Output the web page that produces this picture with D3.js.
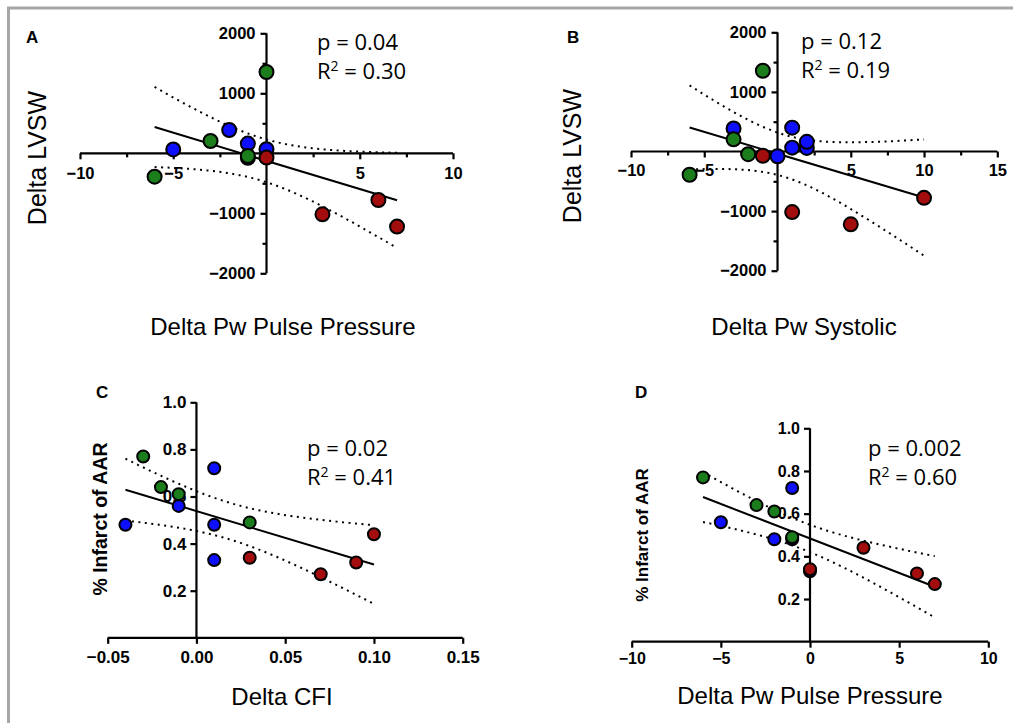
<!DOCTYPE html>
<html>
<head>
<meta charset="utf-8">
<script src="https://cdn.jsdelivr.net/npm/d3@7/dist/d3.min.js"></script>
<style>
  html, body { margin: 0; padding: 0; background: #ffffff; }
  svg { display: block; }
</style>
</head>
<body>
<svg id="chart" width="1013" height="723"></svg>
<script>
// ---------------- DATA ----------------
// Panel A: Delta Pw Pulse Pressure vs Delta LVSW
const aX     = [-5, -2, -1, -1, 0, -6, -3, -1, 0, 0, 3, 6, 7];
const aY     = [65, 388, 162, -75, 67, -390, 205, -45, 1355, -72, -1017, -778, -1222];
const aGroup = ["blue","blue","blue","blue","blue","green","green","green","green","red","red","red","red"];
const aXTicks = [-10, -5, 5, 10];
const aXMinor = [-7.5, -2.5, 2.5, 7.5];
const aYTicks = [-2000, -1000, 1000, 2000];
const aYMinor = [-1500, -500, 500, 1500];
const aStats = ["p = 0.04", "0.30"];

// Panel B: Delta Pw Systolic vs Delta LVSW
const bX     = [-3, 0, 1, 1, 2, 2, -6, -3, -2, -1, -1, 1, 5, 10];
const bY     = [388, -80, 400, 65, 60, 162, -390, 205, -45, 1355, -72, -1017, -1222, -778];
const bGroup = ["blue","blue","blue","blue","blue","blue","green","green","green","green","red","red","red","red"];
const bXTicks = [-10, -5, 5, 10, 15];
const bXMinor = [-7.5, -2.5, 2.5, 7.5, 12.5];
const bYTicks = [-2000, -1000, 1000, 2000];
const bYMinor = [-1500, -500, 500, 1500];
const bStats = ["p = 0.12", "0.19"];

// Panel C: Delta CFI vs % Infarct of AAR
const cX     = [-0.04, -0.01, 0.01, 0.01, 0.01, -0.03, -0.02, -0.01, 0.03, 0.03, 0.07, 0.09, 0.10];
const cY     = [0.48, 0.56, 0.72, 0.48, 0.33, 0.77, 0.64, 0.61, 0.49, 0.34, 0.27, 0.32, 0.44];
const cGroup = ["blue","blue","blue","blue","blue","green","green","green","green","red","red","red","red"];
const cXTicks = [-0.05, 0.00, 0.05, 0.10, 0.15];
const cYTicks = [0.2, 0.4, 0.6, 0.8, 1.0];
const cStats = ["p = 0.02", "0.41"];

// Panel D: Delta Pw Pulse Pressure vs % Infarct of AAR
const dX     = [-5, -2, -1, -1, 0, -6, -3, -2, -1, 0, 3, 6, 7];
const dY     = [0.56, 0.48, 0.72, 0.48, 0.33, 0.77, 0.64, 0.61, 0.49, 0.34, 0.44, 0.32, 0.27];
const dGroup = ["blue","blue","blue","blue","blue","green","green","green","green","red","red","red","red"];
const dXTicks = [-10, -5, 0, 5, 10];
const dYTicks = [0.2, 0.4, 0.6, 0.8, 1.0];
const dStats = ["p = 0.002", "0.60"];

const groupColors = {blue: "#0f0fff", green: "#1b7d1b", red: "#a30d0d"};

// ---------------- HELPERS ----------------
const svg = d3.select("#chart");
svg.append("rect").attr("width", 1013).attr("height", 723).attr("fill", "#fff");
// figure frame
svg.append("line").attr("x1", 7).attr("x2", 1013).attr("y1", 8).attr("y2", 8)
   .attr("stroke", "#a6a6a6").attr("stroke-width", 3);
svg.append("line").attr("x1", 8.5).attr("x2", 8.5).attr("y1", 7).attr("y2", 723)
   .attr("stroke", "#a6a6a6").attr("stroke-width", 3);

const tTable = {8: 2.306, 9: 2.262, 10: 2.228, 11: 2.201, 12: 2.179, 13: 2.160};

function regression(xs, ys) {
  const n = xs.length;
  const mx = d3.mean(xs), my = d3.mean(ys);
  let sxx = 0, sxy = 0;
  for (let i = 0; i < n; i++) { sxx += (xs[i]-mx)**2; sxy += (xs[i]-mx)*(ys[i]-my); }
  const slope = sxy / sxx, icpt = my - slope * mx;
  let sse = 0;
  for (let i = 0; i < n; i++) sse += (ys[i] - (icpt + slope*xs[i]))**2;
  const s = Math.sqrt(sse / (n - 2));
  const t = tTable[n - 2] || 2.2;
  return {slope, icpt, s, t, n, mx, sxx};
}

function drawPanel(cfg) {
  const g = svg.append("g");
  const x = d3.scaleLinear().domain(cfg.xDomain).range(cfg.xRange);
  const y = d3.scaleLinear().domain(cfg.yDomain).range(cfg.yRange);
  const x0 = cfg.xAxisAt, y0 = cfg.yAxisAt;

  // minor ticks
  if (cfg.xMinor) {
    g.append("g").attr("transform", `translate(0,${y(y0)})`)
      .call(d3.axisBottom(x).tickValues(cfg.xMinor).tickSize(cfg.minorLen).tickFormat("").tickSizeOuter(0))
      .call(a => a.select(".domain").remove())
      .selectAll("line").attr("stroke", "#000").attr("stroke-width", cfg.axisW);
  }
  if (cfg.yMinor) {
    g.append("g").attr("transform", `translate(${x(x0)},0)`)
      .call(d3.axisLeft(y).tickValues(cfg.yMinor).tickSize(cfg.minorLen).tickFormat("").tickSizeOuter(0))
      .call(a => a.select(".domain").remove())
      .selectAll("line").attr("stroke", "#000").attr("stroke-width", cfg.axisW);
  }
  // major axes
  const xa = g.append("g").attr("transform", `translate(0,${y(y0)})`)
    .call(d3.axisBottom(x).tickValues(cfg.xTicks).tickSize(cfg.tickLen).tickPadding(cfg.xPad)
      .tickSizeOuter(0).tickFormat(cfg.xFmt));
  const ya = g.append("g").attr("transform", `translate(${x(x0)},0)`)
    .call(d3.axisLeft(y).tickValues(cfg.yTicks).tickSize(cfg.tickLen).tickPadding(cfg.yPad)
      .tickSizeOuter(0).tickFormat(cfg.yFmt));
  [xa, ya].forEach(a => {
    a.select(".domain").attr("stroke", "#000").attr("stroke-width", cfg.axisW);
    a.selectAll(".tick line").attr("stroke", "#000").attr("stroke-width", cfg.axisW);
    a.selectAll("text").attr("fill", "#000")
      .style("font-family", "Liberation Sans, Arial, sans-serif")
      .style("font-weight", "bold").style("font-size", cfg.tickFont + "px");
  });
  // extend domains to full extent
  xa.select(".domain").attr("d", `M${cfg.xRange[0]},0H${cfg.xRange[1]}`);
  ya.select(".domain").attr("d", `M0,${cfg.yRange[0]}V${cfg.yRange[1]}`);

  // regression + confidence band
  const r = regression(cfg.xs, cfg.ys);
  const xmin = d3.min(cfg.xs), xmax = d3.max(cfg.xs);
  const samples = d3.range(0, 61).map(i => xmin + (xmax - xmin) * i / 60);
  const fit = v => r.icpt + r.slope * v;
  const hw = v => r.t * r.s * Math.sqrt(1 / r.n + (v - r.mx) ** 2 / r.sxx);
  const line = d3.line().x(d => x(d[0])).y(d => y(d[1]));
  [1, -1].forEach(sgn => {
    g.append("path").attr("d", line(samples.map(v => [v, fit(v) + sgn * hw(v)])))
      .attr("fill", "none").attr("stroke", "#000").attr("stroke-width", 2)
      .attr("stroke-dasharray", "2,4.5");
  });
  g.append("path").attr("d", line([[xmin, fit(xmin)], [xmax, fit(xmax)]]))
    .attr("fill", "none").attr("stroke", "#000").attr("stroke-width", 2);

  // points
  g.selectAll("circle.pt").data(cfg.xs.map((v, i) => ({x: v, y: cfg.ys[i], g: cfg.groups[i]})))
    .join("circle").attr("class", "pt")
    .attr("cx", d => x(d.x)).attr("cy", d => y(d.y)).attr("r", cfg.r)
    .attr("fill", d => groupColors[d.g]).attr("stroke", "#000").attr("stroke-width", 2);

  // stats text
  g.append("text").attr("x", cfg.statX).attr("y", cfg.statY)
    .style("font-family", "Open Sans, sans-serif").style("font-size", "22px").attr("fill", "#000")
    .text(cfg.stats[0]);
  const rt = g.append("text").attr("x", cfg.statX).attr("y", cfg.statY + 29)
    .style("font-family", "Open Sans, sans-serif").style("font-size", "22px").attr("fill", "#000");
  rt.append("tspan").text("R");
  rt.append("tspan").attr("dy", -8).style("font-size", "14px").text("2");
  rt.append("tspan").attr("dy", 8).text(" = " + cfg.stats[1]);

  // panel letter
  svg.append("text").attr("x", cfg.letterPos[0]).attr("y", cfg.letterPos[1])
    .style("font-family", "Liberation Sans, Arial, sans-serif").style("font-weight", "bold")
    .style("font-size", "17px").text(cfg.letter);

  // axis titles
  svg.append("text").attr("x", cfg.xTitlePos[0]).attr("y", cfg.xTitlePos[1])
    .attr("text-anchor", "middle").attr("dominant-baseline", "central")
    .style("font-family", "Liberation Sans, Arial, sans-serif").style("font-size", cfg.xTitleFont + "px")
    .text(cfg.xTitle);
  svg.append("text")
    .attr("transform", `translate(${cfg.yTitlePos[0]},${cfg.yTitlePos[1]}) rotate(-90)`)
    .attr("text-anchor", "middle").attr("dominant-baseline", "central")
    .style("font-family", "Liberation Sans, Arial, sans-serif").style("font-size", cfg.yTitleFont + "px")
    .style("font-weight", cfg.yTitleWeight)
    .text(cfg.yTitle);
}

const intFmt = d3.format("d");

drawPanel({
  xs: aX, ys: aY, groups: aGroup, xDomain: [-10, 10], xRange: [80, 453],
  yDomain: [-2000, 2000], yRange: [273.3, 33.3], xAxisAt: 0, yAxisAt: 0,
  xTicks: aXTicks, xMinor: aXMinor, yTicks: aYTicks, yMinor: aYMinor,
  xFmt: intFmt, yFmt: intFmt, tickLen: 6, minorLen: 4, xPad: 8, yPad: 5, axisW: 2.2, tickFont: 16.5,
  r: 7, stats: aStats, statX: 317, statY: 50, letter: "A", letterPos: [26, 43],
  xTitle: "Delta Pw Pulse Pressure", xTitlePos: [283, 326], xTitleFont: 24,
  yTitle: "Delta LVSW", yTitlePos: [37, 158], yTitleFont: 25, yTitleWeight: "normal"
});

drawPanel({
  xs: bX, ys: bY, groups: bGroup, xDomain: [-10, 15], xRange: [631, 997.3],
  yDomain: [-2000, 2000], yRange: [270.7, 32.3], xAxisAt: 0, yAxisAt: 0,
  xTicks: bXTicks, xMinor: bXMinor, yTicks: bYTicks, yMinor: bYMinor,
  xFmt: intFmt, yFmt: intFmt, tickLen: 6, minorLen: 4, xPad: 7, yPad: 5, axisW: 2.2, tickFont: 16.5,
  r: 7, stats: bStats, statX: 801, statY: 49, letter: "B", letterPos: [567, 43],
  xTitle: "Delta Pw Systolic", xTitlePos: [804, 326], xTitleFont: 24,
  yTitle: "Delta LVSW", yTitlePos: [572, 156], yTitleFont: 25, yTitleWeight: "normal"
});

drawPanel({
  xs: cX, ys: cY, groups: cGroup, xDomain: [-0.05, 0.15], xRange: [107.7, 462.7],
  yDomain: [0, 1], yRange: [637.8, 402.3], xAxisAt: 0, yAxisAt: 0,
  xTicks: cXTicks, yTicks: cYTicks,
  xFmt: d3.format(".2f"), yFmt: d3.format(".1f"), tickLen: 6, minorLen: 4, xPad: 7, yPad: 4, axisW: 2.2, tickFont: 17,
  r: 6, stats: cStats, statX: 307, statY: 456, letter: "C", letterPos: [96, 398],
  xTitle: "Delta CFI", xTitlePos: [282, 696], xTitleFont: 24,
  yTitle: "% Infarct of AAR", yTitlePos: [100, 519], yTitleFont: 19.5, yTitleWeight: "bold"
});

drawPanel({
  xs: dX, ys: dY, groups: dGroup, xDomain: [-10, 10], xRange: [631.7, 988.3],
  yDomain: [0, 1], yRange: [641.7, 428.3], xAxisAt: 0, yAxisAt: 0,
  xTicks: dXTicks, yTicks: dYTicks,
  xFmt: intFmt, yFmt: d3.format(".1f"), tickLen: 6, minorLen: 4, xPad: 5, yPad: 4, axisW: 2.2, tickFont: 16,
  r: 6, stats: dStats, statX: 868, statY: 456, letter: "D", letterPos: [635, 398],
  xTitle: "Delta Pw Pulse Pressure", xTitlePos: [810, 695], xTitleFont: 24,
  yTitle: "% Infarct of AAR", yTitlePos: [642, 535], yTitleFont: 17, yTitleWeight: "bold"
});
</script>
</body>
</html>
